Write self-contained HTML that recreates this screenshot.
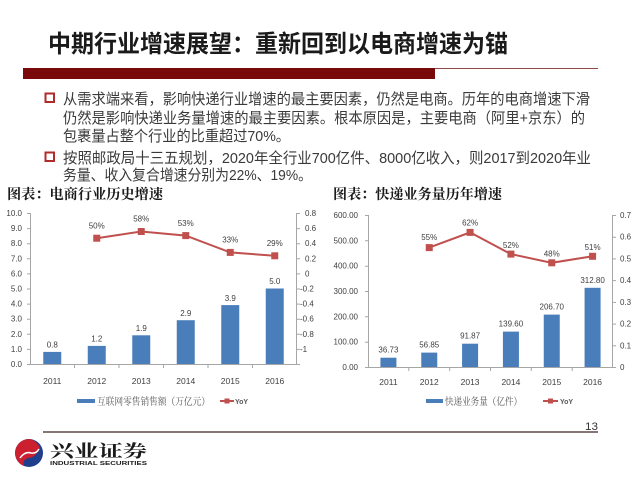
<!DOCTYPE html>
<html>
<head>
<meta charset="utf-8">
<style>
html,body{margin:0;padding:0;background:#fff;}
svg{display:block;}
.sans{font-family:"Liberation Sans","Noto Sans CJK SC",sans-serif;}
.serif{font-family:"Liberation Serif","Noto Serif CJK SC",serif;}
.ax{font-family:"Liberation Sans",sans-serif;font-size:8px;fill:#404040;}
.cat{font-family:"Liberation Sans",sans-serif;font-size:8.5px;fill:#404040;}
.dl{font-family:"Liberation Sans",sans-serif;font-size:8px;fill:#404040;}
</style>
</head>
<body>
<svg width="640" height="480" viewBox="0 0 640 480" xmlns="http://www.w3.org/2000/svg">
<rect width="640" height="480" fill="#fff"/>

<!-- Title -->
<text class="sans" x="48" y="52" font-size="24" font-weight="bold" fill="#1a1a1a" textLength="460" lengthAdjust="spacingAndGlyphs">中期行业增速展望：重新回到以电商增速为锚</text>

<!-- Red bar -->
<rect x="23" y="68" width="412" height="11" fill="#7a0a0a"/>
<line x1="435" y1="68.5" x2="598" y2="68.5" stroke="#8e4a4a" stroke-width="1"/>

<!-- Bullets -->
<rect x="45.5" y="93.5" width="8.5" height="8.5" fill="none" stroke="#b22b2b" stroke-width="2"/>
<rect x="45.5" y="152.5" width="8.5" height="8.5" fill="none" stroke="#b22b2b" stroke-width="2"/>
<g class="sans" font-size="15" fill="#3a3a3a">
<text x="63" y="104" textLength="527" lengthAdjust="spacingAndGlyphs">从需求端来看，影响快递行业增速的最主要因素，仍然是电商。历年的电商增速下滑</text>
<text x="63" y="123" textLength="522" lengthAdjust="spacingAndGlyphs">仍然是影响快递业务量增速的最主要因素。根本原因是，主要电商（阿里+京东）的</text>
<text x="63" y="141" textLength="227" lengthAdjust="spacingAndGlyphs">包裹量占整个行业的比重超过70%。</text>
<text x="63" y="163" textLength="528" lengthAdjust="spacingAndGlyphs">按照邮政局十三五规划，2020年全行业700亿件、8000亿收入，则2017到2020年业</text>
<text x="63" y="180" textLength="249" lengthAdjust="spacingAndGlyphs">务量、收入复合增速分别为22%、19%。</text>
</g>

<!-- Chart titles -->
<text class="serif" x="7" y="199" font-size="14" font-weight="bold" fill="#1a1a1a" textLength="156" lengthAdjust="spacingAndGlyphs">图表：电商行业历史增速</text>
<text class="serif" x="333" y="199" font-size="14" font-weight="bold" fill="#1a1a1a" textLength="169" lengthAdjust="spacingAndGlyphs">图表：快递业务量历年增速</text>

<!-- ================= LEFT CHART ================= -->
<g stroke="#a6a6a6" stroke-width="1" fill="none">
  <line x1="30.5" y1="213" x2="30.5" y2="364"/>
  <line x1="296.5" y1="213" x2="296.5" y2="364"/>
  <line x1="30" y1="364.5" x2="297" y2="364.5"/>
  <!-- left ticks -->
  <path d="M27 213.5H30M27 228.6H30M27 243.7H30M27 258.8H30M27 273.9H30M27 289H30M27 304.1H30M27 319.2H30M27 334.3H30M27 349.4H30M27 364.5H30"/>
  <!-- right ticks -->
  <path d="M297 213.5H300M297 228.6H300M297 243.7H300M297 258.8H300M297 273.9H300M297 289H300M297 304.1H300M297 319.2H300M297 334.3H300M297 349.4H300M297 364.5H300"/>
  <!-- category ticks -->
  <path d="M74.5 364V368M119 364V368M163.5 364V368M208 364V368M252.5 364V368"/>
</g>
<g class="ax" text-anchor="end">
  <text x="22" y="216">10.0</text>
  <text x="22" y="231.1">9.0</text>
  <text x="22" y="246.2">8.0</text>
  <text x="22" y="261.3">7.0</text>
  <text x="22" y="276.4">6.0</text>
  <text x="22" y="291.5">5.0</text>
  <text x="22" y="306.6">4.0</text>
  <text x="22" y="321.7">3.0</text>
  <text x="22" y="336.8">2.0</text>
  <text x="22" y="351.9">1.0</text>
  <text x="22" y="367">0.0</text>
</g>
<g class="ax">
  <text x="305" y="216">0.8</text>
  <text x="305" y="231.1">0.6</text>
  <text x="305" y="246.2">0.4</text>
  <text x="305" y="261.3">0.2</text>
  <text x="305" y="276.4">0</text>
  <text x="300" y="291.5">-0.2</text>
  <text x="300" y="306.6">-0.4</text>
  <text x="300" y="321.7">-0.6</text>
  <text x="300" y="336.8">-0.8</text>
  <text x="300" y="351.9">-1</text>
</g>
<g fill="#4a7ebb">
  <rect x="43.25" y="351.9" width="18" height="12.1"/>
  <rect x="87.75" y="345.9" width="18" height="18.1"/>
  <rect x="132.25" y="335.3" width="18" height="28.7"/>
  <rect x="176.75" y="320.2" width="18" height="43.8"/>
  <rect x="221.25" y="305.1" width="18" height="58.9"/>
  <rect x="265.75" y="288.5" width="18" height="75.5"/>
</g>
<g class="dl" text-anchor="middle">
  <text x="52.25" y="347.5">0.8</text>
  <text x="96.75" y="341.5">1.2</text>
  <text x="141.25" y="331">1.9</text>
  <text x="185.75" y="316">2.9</text>
  <text x="230.25" y="301">3.9</text>
  <text x="274.75" y="284">5.0</text>
</g>
<polyline points="96.75,238.2 141.25,231.5 185.75,235.6 230.25,252.4 274.75,255.8" fill="none" stroke="#c0504d" stroke-width="2"/>
<g fill="#c0504d">
  <rect x="93.25" y="234.7" width="7" height="7"/>
  <rect x="137.75" y="228" width="7" height="7"/>
  <rect x="182.25" y="232.1" width="7" height="7"/>
  <rect x="226.75" y="248.9" width="7" height="7"/>
  <rect x="271.25" y="252.3" width="7" height="7"/>
</g>
<g class="dl" text-anchor="middle">
  <text x="96.75" y="228.5">50%</text>
  <text x="141.25" y="221.5">58%</text>
  <text x="185.75" y="226">53%</text>
  <text x="230.25" y="242.5">33%</text>
  <text x="274.75" y="246">29%</text>
</g>
<g class="cat" text-anchor="middle">
  <text x="52.25" y="384">2011</text>
  <text x="96.75" y="384">2012</text>
  <text x="141.25" y="384">2013</text>
  <text x="185.75" y="384">2014</text>
  <text x="230.25" y="384">2015</text>
  <text x="274.75" y="384">2016</text>
</g>
<!-- Left legend -->
<rect x="77" y="399" width="18" height="4" fill="#4a7ebb"/>
<text class="serif" x="97" y="405" font-size="10" fill="#595959" textLength="113" lengthAdjust="spacingAndGlyphs">互联网零售销售额（万亿元）</text>
<line x1="220" y1="401" x2="234" y2="401" stroke="#c0504d" stroke-width="2"/>
<rect x="224.5" y="398.5" width="5" height="5" fill="#c0504d"/>
<text x="235" y="404" font-family="Liberation Sans, sans-serif" font-size="7" font-weight="bold" fill="#595959">YoY</text>

<!-- ================= RIGHT CHART ================= -->
<g stroke="#a6a6a6" stroke-width="1" fill="none">
  <line x1="368.5" y1="215" x2="368.5" y2="367"/>
  <line x1="612.5" y1="215" x2="612.5" y2="367"/>
  <line x1="368" y1="367.5" x2="613" y2="367.5"/>
  <path d="M365 215.5H368M365 240.8H368M365 266.2H368M365 291.5H368M365 316.8H368M365 342.2H368M365 367.5H368"/>
  <path d="M613 215.5H616M613 237.2H616M613 258.9H616M613 280.6H616M613 302.4H616M613 324.1H616M613 345.8H616M613 367.5H616"/>
  <path d="M408.8 367V371M449.7 367V371M490.5 367V371M531.3 367V371M572.2 367V371"/>
</g>
<g class="ax" text-anchor="end">
  <text x="358" y="218">600.00</text>
  <text x="358" y="243.3">500.00</text>
  <text x="358" y="268.7">400.00</text>
  <text x="358" y="294">300.00</text>
  <text x="358" y="319.3">200.00</text>
  <text x="358" y="344.7">100.00</text>
  <text x="358" y="370">0.00</text>
</g>
<g class="ax">
  <text x="620" y="218">0.7</text>
  <text x="620" y="239.7">0.6</text>
  <text x="620" y="261.4">0.5</text>
  <text x="620" y="283.1">0.4</text>
  <text x="620" y="304.9">0.3</text>
  <text x="620" y="326.6">0.2</text>
  <text x="620" y="348.3">0.1</text>
  <text x="620" y="370">0</text>
</g>
<g fill="#4a7ebb">
  <rect x="380.42" y="357.7" width="16" height="9.3"/>
  <rect x="421.25" y="352.6" width="16" height="14.4"/>
  <rect x="462.08" y="343.7" width="16" height="23.3"/>
  <rect x="502.92" y="331.6" width="16" height="35.4"/>
  <rect x="543.75" y="314.6" width="16" height="52.4"/>
  <rect x="584.58" y="287.8" width="16" height="79.2"/>
</g>
<g class="dl" text-anchor="middle">
  <text x="388.42" y="352.5">36.73</text>
  <text x="429.25" y="347.5">56.85</text>
  <text x="470.08" y="338.5">91.87</text>
  <text x="510.92" y="326.5">139.60</text>
  <text x="551.75" y="309.5">206.70</text>
  <text x="592.58" y="283">312.80</text>
</g>
<polyline points="429.25,247.6 470.08,232.4 510.92,254.1 551.75,262.8 592.58,256.3" fill="none" stroke="#c0504d" stroke-width="2"/>
<g fill="#c0504d">
  <rect x="425.75" y="244.1" width="7" height="7"/>
  <rect x="466.58" y="228.9" width="7" height="7"/>
  <rect x="507.42" y="250.6" width="7" height="7"/>
  <rect x="548.25" y="259.3" width="7" height="7"/>
  <rect x="589.08" y="252.8" width="7" height="7"/>
</g>
<g class="dl" text-anchor="middle">
  <text x="429.25" y="240">55%</text>
  <text x="470.08" y="225.5">62%</text>
  <text x="510.92" y="248">52%</text>
  <text x="551.75" y="256.5">48%</text>
  <text x="592.58" y="250">51%</text>
</g>
<g class="cat" text-anchor="middle">
  <text x="388.42" y="385">2011</text>
  <text x="429.25" y="385">2012</text>
  <text x="470.08" y="385">2013</text>
  <text x="510.92" y="385">2014</text>
  <text x="551.75" y="385">2015</text>
  <text x="592.58" y="385">2016</text>
</g>
<!-- Right legend -->
<rect x="426" y="399" width="17" height="4" fill="#4a7ebb"/>
<text class="serif" x="445" y="405" font-size="10" fill="#595959" textLength="77" lengthAdjust="spacingAndGlyphs">快递业务量（亿件）</text>
<line x1="543" y1="401" x2="558" y2="401" stroke="#c0504d" stroke-width="2"/>
<rect x="548" y="398.5" width="5" height="5" fill="#c0504d"/>
<text x="560" y="404" font-family="Liberation Sans, sans-serif" font-size="7" font-weight="bold" fill="#595959">YoY</text>

<!-- Footer -->
<line x1="43" y1="432" x2="598" y2="432" stroke="#3d2424" stroke-width="1.2"/>
<text x="585" y="430" font-family="Liberation Sans, sans-serif" font-size="11" fill="#333" textLength="13" lengthAdjust="spacingAndGlyphs">13</text>

<!-- Logo -->
<circle cx="29" cy="453" r="14" fill="#1f3e8c"/>
<path d="M29 439 A14 14 0 0 0 17 460 Q22 452 30 454 Q37 455 40 448 A14 14 0 0 0 29 439 Z" fill="#cc1f2f"/>
<path d="M17 460 A14 14 0 0 0 24 466 Q22 459 29 458 Q36 457 40 448 Q37 455 30 454 Q22 452 17 460 Z" fill="#cc1f2f"/>
<path d="M20 458 Q25 451 31 453 Q36 454 39 449" fill="none" stroke="#fff" stroke-width="1.5"/>
<text x="50" y="457" font-family="Liberation Serif, Noto Serif CJK SC, serif" font-size="17" font-weight="bold" fill="#1a1a1a" textLength="97" lengthAdjust="spacingAndGlyphs">兴业证券</text>
<text x="50" y="465" font-family="Liberation Sans, sans-serif" font-size="5" font-weight="bold" fill="#1a1a1a" textLength="97" lengthAdjust="spacingAndGlyphs">INDUSTRIAL SECURITIES</text>
</svg>
</body>
</html>
